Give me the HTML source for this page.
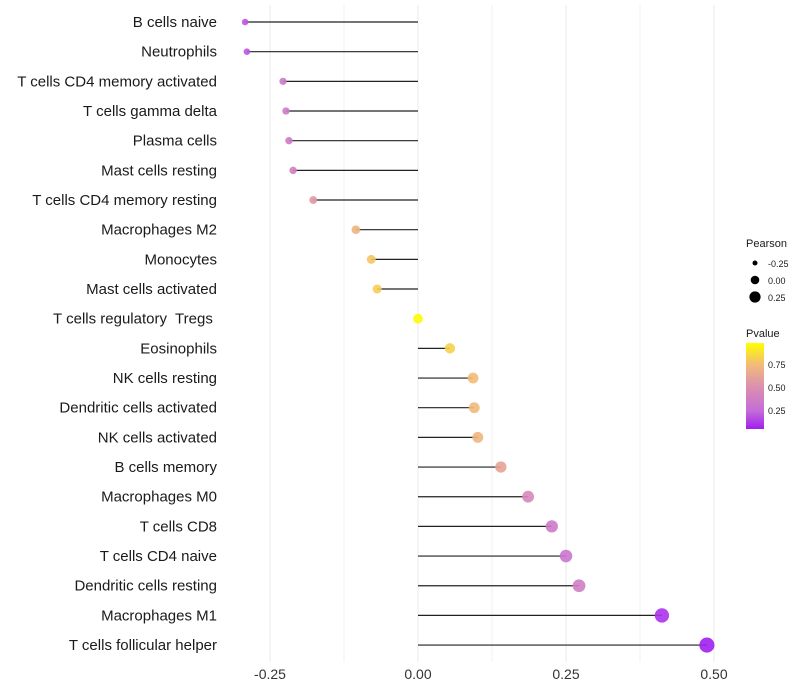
<!DOCTYPE html>
<html><head><meta charset="utf-8"><style>
body{margin:0;background:#fff;font-family:"Liberation Sans",sans-serif}
svg{display:block}
text{white-space:pre}
</style></head><body>
<svg id="chart" width="800" height="700">
<defs><linearGradient id="pg" x1="0" y1="1" x2="0" y2="0">
<stop offset="0" stop-color="#a020f0"/><stop offset="0.21" stop-color="#c46cd8"/><stop offset="0.48" stop-color="#da8fb0"/><stop offset="0.74" stop-color="#f1b97b"/><stop offset="1" stop-color="#ffff00"/>
</linearGradient></defs>
<g id="grid"></g><g id="marks"></g><g id="labels"></g>
<g font-size="10" fill="#1a1a1a">
<text x="746" y="247" font-size="11">Pearson</text>
<circle cx="755" cy="263" r="2.5" fill="#000"/><text x="768" y="267" font-size="9">-0.25</text>
<circle cx="755" cy="280" r="4.3" fill="#000"/><text x="768" y="284" font-size="9">0.00</text>
<circle cx="755" cy="297" r="5.6" fill="#000"/><text x="768" y="301" font-size="9">0.25</text>
<text x="746" y="337" font-size="11">Pvalue</text>
<rect x="746" y="343" width="18" height="86" fill="url(#pg)"/>
<text x="768" y="368" font-size="9">0.75</text><text x="768" y="391" font-size="9">0.50</text><text x="768" y="414" font-size="9">0.25</text>
</g>
</svg>
<script>
const cells=["B cells naive","Neutrophils","T cells CD4 memory activated","T cells gamma delta","Plasma cells","Mast cells resting","T cells CD4 memory resting","Macrophages M2","Monocytes","Mast cells activated","T cells regulatory  Tregs ","Eosinophils","NK cells resting","Dendritic cells activated","NK cells activated","B cells memory","Macrophages M0","T cells CD8","T cells CD4 naive","Dendritic cells resting","Macrophages M1","T cells follicular helper"];
const pearson=[-0.292,-0.289,-0.228,-0.223,-0.218,-0.211,-0.177,-0.105,-0.079,-0.069,0,0.054,0.093,0.095,0.101,0.140,0.186,0.226,0.250,0.272,0.412,0.488];
const pvalue=[0.2,0.2,0.35,0.35,0.35,0.4,0.55,0.72,0.8,0.82,0.99,0.84,0.76,0.75,0.73,0.62,0.45,0.35,0.32,0.38,0.1,0.05];
const xTicks=[-0.25,0,0.25,0.5];
const xTickLabels=["-0.25","0.00","0.25","0.50"];
const NS="http://www.w3.org/2000/svg";
const x=v=>418+v*592;
const y=i=>22+i*29.67;
function mk(t,a,p){const e=document.createElementNS(NS,t);for(const k in a)e.setAttribute(k,a[k]);p.appendChild(e);return e;}
const stops=[[0.05,[160,32,240]],[0.25,[196,108,216]],[0.5,[218,143,176]],[0.75,[241,185,123]],[1,[255,255,0]]];
function col(p){p=Math.max(0.05,Math.min(1,p));for(let i=1;i<stops.length;i++){if(p<=stops[i][0]){const a=stops[i-1],b=stops[i],t=(p-a[0])/(b[0]-a[0]);return "rgb("+a[1].map((c,j)=>Math.round(c+(b[1][j]-c)*t)).join(",")+")";}}return "rgb(255,255,0)";}
const g=document.getElementById('grid'),m=document.getElementById('marks'),L=document.getElementById('labels');
[-0.125,0.125,0.375].forEach(v=>{const l=mk('line',{x1:x(v),x2:x(v),y1:5,y2:662,stroke:'#f2f2f2','stroke-width':1},g);

});
xTicks.forEach((v,i)=>{const l=mk('line',{x1:x(v),x2:x(v),y1:5,y2:662,stroke:'#ebebeb','stroke-width':1},g);


const t=mk('text',{x:x(v),y:679,'text-anchor':'middle','font-size':14,fill:'#333'},L);t.textContent=xTickLabels[i];

});
cells.forEach((c,i)=>{
const l=mk('line',{x1:x(0),x2:x(pearson[i]),y1:y(i),y2:y(i),stroke:'#222','stroke-width':1.2},m);


const r=Math.max(2,4.9+5.5*pearson[i]);
const p=mk('circle',{cx:x(pearson[i]),cy:y(i),r:r,fill:col(pvalue[i]),'fill-opacity':0.9},m);


const t=mk('text',{x:217,y:y(i)+5,'text-anchor':'end','font-size':15,fill:'#1a1a1a'},L);t.textContent=c;


});
</script>
</body></html>
